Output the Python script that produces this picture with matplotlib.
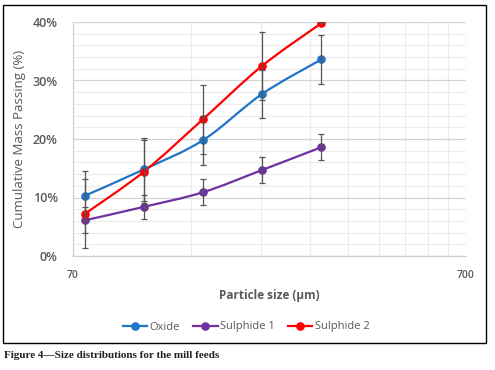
import numpy as np
import matplotlib
matplotlib.use("Agg")
import matplotlib.pyplot as plt
from matplotlib.path import Path
from matplotlib.patches import PathPatch, Rectangle
from matplotlib.lines import Line2D
from matplotlib.ticker import FixedLocator, NullFormatter

# sieve sizes (um) and cumulative passing (%)
sizes = [75, 106, 150, 212, 300]
oxide = [10.3, 14.8, 19.8, 27.7, 33.6]
oxide_err = [4.2, 5.4, 4.2, 4.1, 4.2]
sulph1 = [6.1, 8.4, 10.9, 14.7, 18.6]
sulph1_err = [2.2, 2.1, 2.2, 2.2, 2.2]
sulph2 = [7.2, 14.4, 23.4, 32.5, 39.8]
sulph2_err = [5.9, 5.4, 5.9, 5.8, 0.0]

names = ["Oxide", "Sulphide 1", "Sulphide 2"]
colors = ["#1f74c8", "#7030a0", "#ff0000"]

plt.rcParams['font.family'] = ['Open Sans', 'DejaVu Sans']
txt_col = "#595959"


def smooth_path(xs, ys):
    # excel style smoothed line: cubic bezier through the points in log-x space
    lx = np.log10(xs)
    ys = np.asarray(ys, float)
    n = len(lx)
    verts = [(xs[0], ys[0])]
    codes = [Path.MOVETO]
    for i in range(n - 1):
        p0 = max(i - 1, 0)
        p3 = min(i + 2, n - 1)
        c1x = lx[i] + (lx[i + 1] - lx[p0]) / 6.0
        c1y = ys[i] + (ys[i + 1] - ys[p0]) / 6.0
        c2x = lx[i + 1] - (lx[p3] - lx[i]) / 6.0
        c2y = ys[i + 1] - (ys[p3] - ys[i]) / 6.0
        verts += [(10 ** c1x, c1y), (10 ** c2x, c2y), (xs[i + 1], ys[i + 1])]
        codes += [Path.CURVE4] * 3
    return Path(verts, codes)


fig = plt.figure(figsize=(4.95, 3.7), dpi=100)

# outer frame and caption
fig.patches.append(Rectangle((3 / 495, 1 - 343 / 370), 483 / 495, 338 / 370,
                             transform=fig.transFigure, fill=False,
                             edgecolor="black", linewidth=1.0))
fig.text(4 / 495, 1 - 356 / 370, "Figure 4\u2014Size distributions for the mill feeds",
         family="Liberation Serif", fontweight="bold", fontsize=8,
         va="center", ha="left", color="#222222")

ax = fig.add_axes([73 / 495, 1 - 256 / 370, 393 / 495, 234 / 370])
ax.set_xscale("log")
ax.set_xlim(70, 700)
ax.set_ylim(0, 40)

ax.xaxis.set_major_locator(FixedLocator([70, 700]))
ax.xaxis.set_minor_locator(FixedLocator([140, 210, 280, 350, 420, 490, 560, 630]))
ax.xaxis.set_minor_formatter(NullFormatter())
ax.set_xticklabels(["70", "700"])
ax.set_yticks([0, 10, 20, 30, 40])
ax.set_yticklabels(["0%", "10%", "20%", "30%", "40%"])
ax.set_yticks(np.arange(0, 41, 2), minor=True)

ax.grid(True, which="major", axis="y", color="#d4d4d4", linewidth=0.9)
ax.grid(True, which="minor", axis="y", color="#ececec", linewidth=0.8)
ax.grid(True, which="minor", axis="x", color="#ececec", linewidth=0.8)
ax.grid(True, which="major", axis="x", color="#e4e4e4", linewidth=0.8)
ax.set_axisbelow(True)

for s in ["top", "right"]:
    ax.spines[s].set_visible(False)
for s in ["left", "bottom"]:
    ax.spines[s].set_color("#d0d0d0")
    ax.spines[s].set_linewidth(0.9)

ax.tick_params(which="both", length=0)
ax.tick_params(axis="y", labelsize=9, labelcolor=txt_col, pad=11)
ax.tick_params(axis="x", labelsize=7.5, labelcolor=txt_col, pad=10)
for lab in ax.get_yticklabels() + ax.get_xticklabels():
    lab.set_fontweight("semibold")

ax.set_ylabel("Cumulative Mass Passing (%)", fontsize=9.5, color=txt_col, labelpad=5)
ax.set_xlabel("Particle size (\u00b5m)", fontsize=8.5, color=txt_col,
              fontweight="bold", labelpad=6)

series = [(oxide, oxide_err), (sulph1, sulph1_err), (sulph2, sulph2_err)]
for (vals, errs), c in zip(series, colors):
    ax.add_patch(PathPatch(smooth_path(sizes, vals), fill=False, edgecolor=c,
                           linewidth=1.6, zorder=3))
    ax.plot(sizes, vals, linestyle="none", marker="o", markersize=5.2,
            color=c, zorder=4)
for vals, errs in series:
    ax.errorbar(sizes, vals, yerr=errs, fmt="none", ecolor="#555555",
                elinewidth=0.9, capsize=2.5, capthick=0.9, zorder=5)

handles = [Line2D([], [], color=c, marker="o", markersize=5.2, linewidth=1.6)
           for c in colors]
fig.legend(handles, names, loc="center", bbox_to_anchor=(246 / 495, 1 - 327 / 370),
           ncol=3, frameon=False, fontsize=8, handlelength=2.2,
           handletextpad=0.2, columnspacing=1.2, labelcolor=txt_col)

fig.savefig("out.png", dpi=100)
